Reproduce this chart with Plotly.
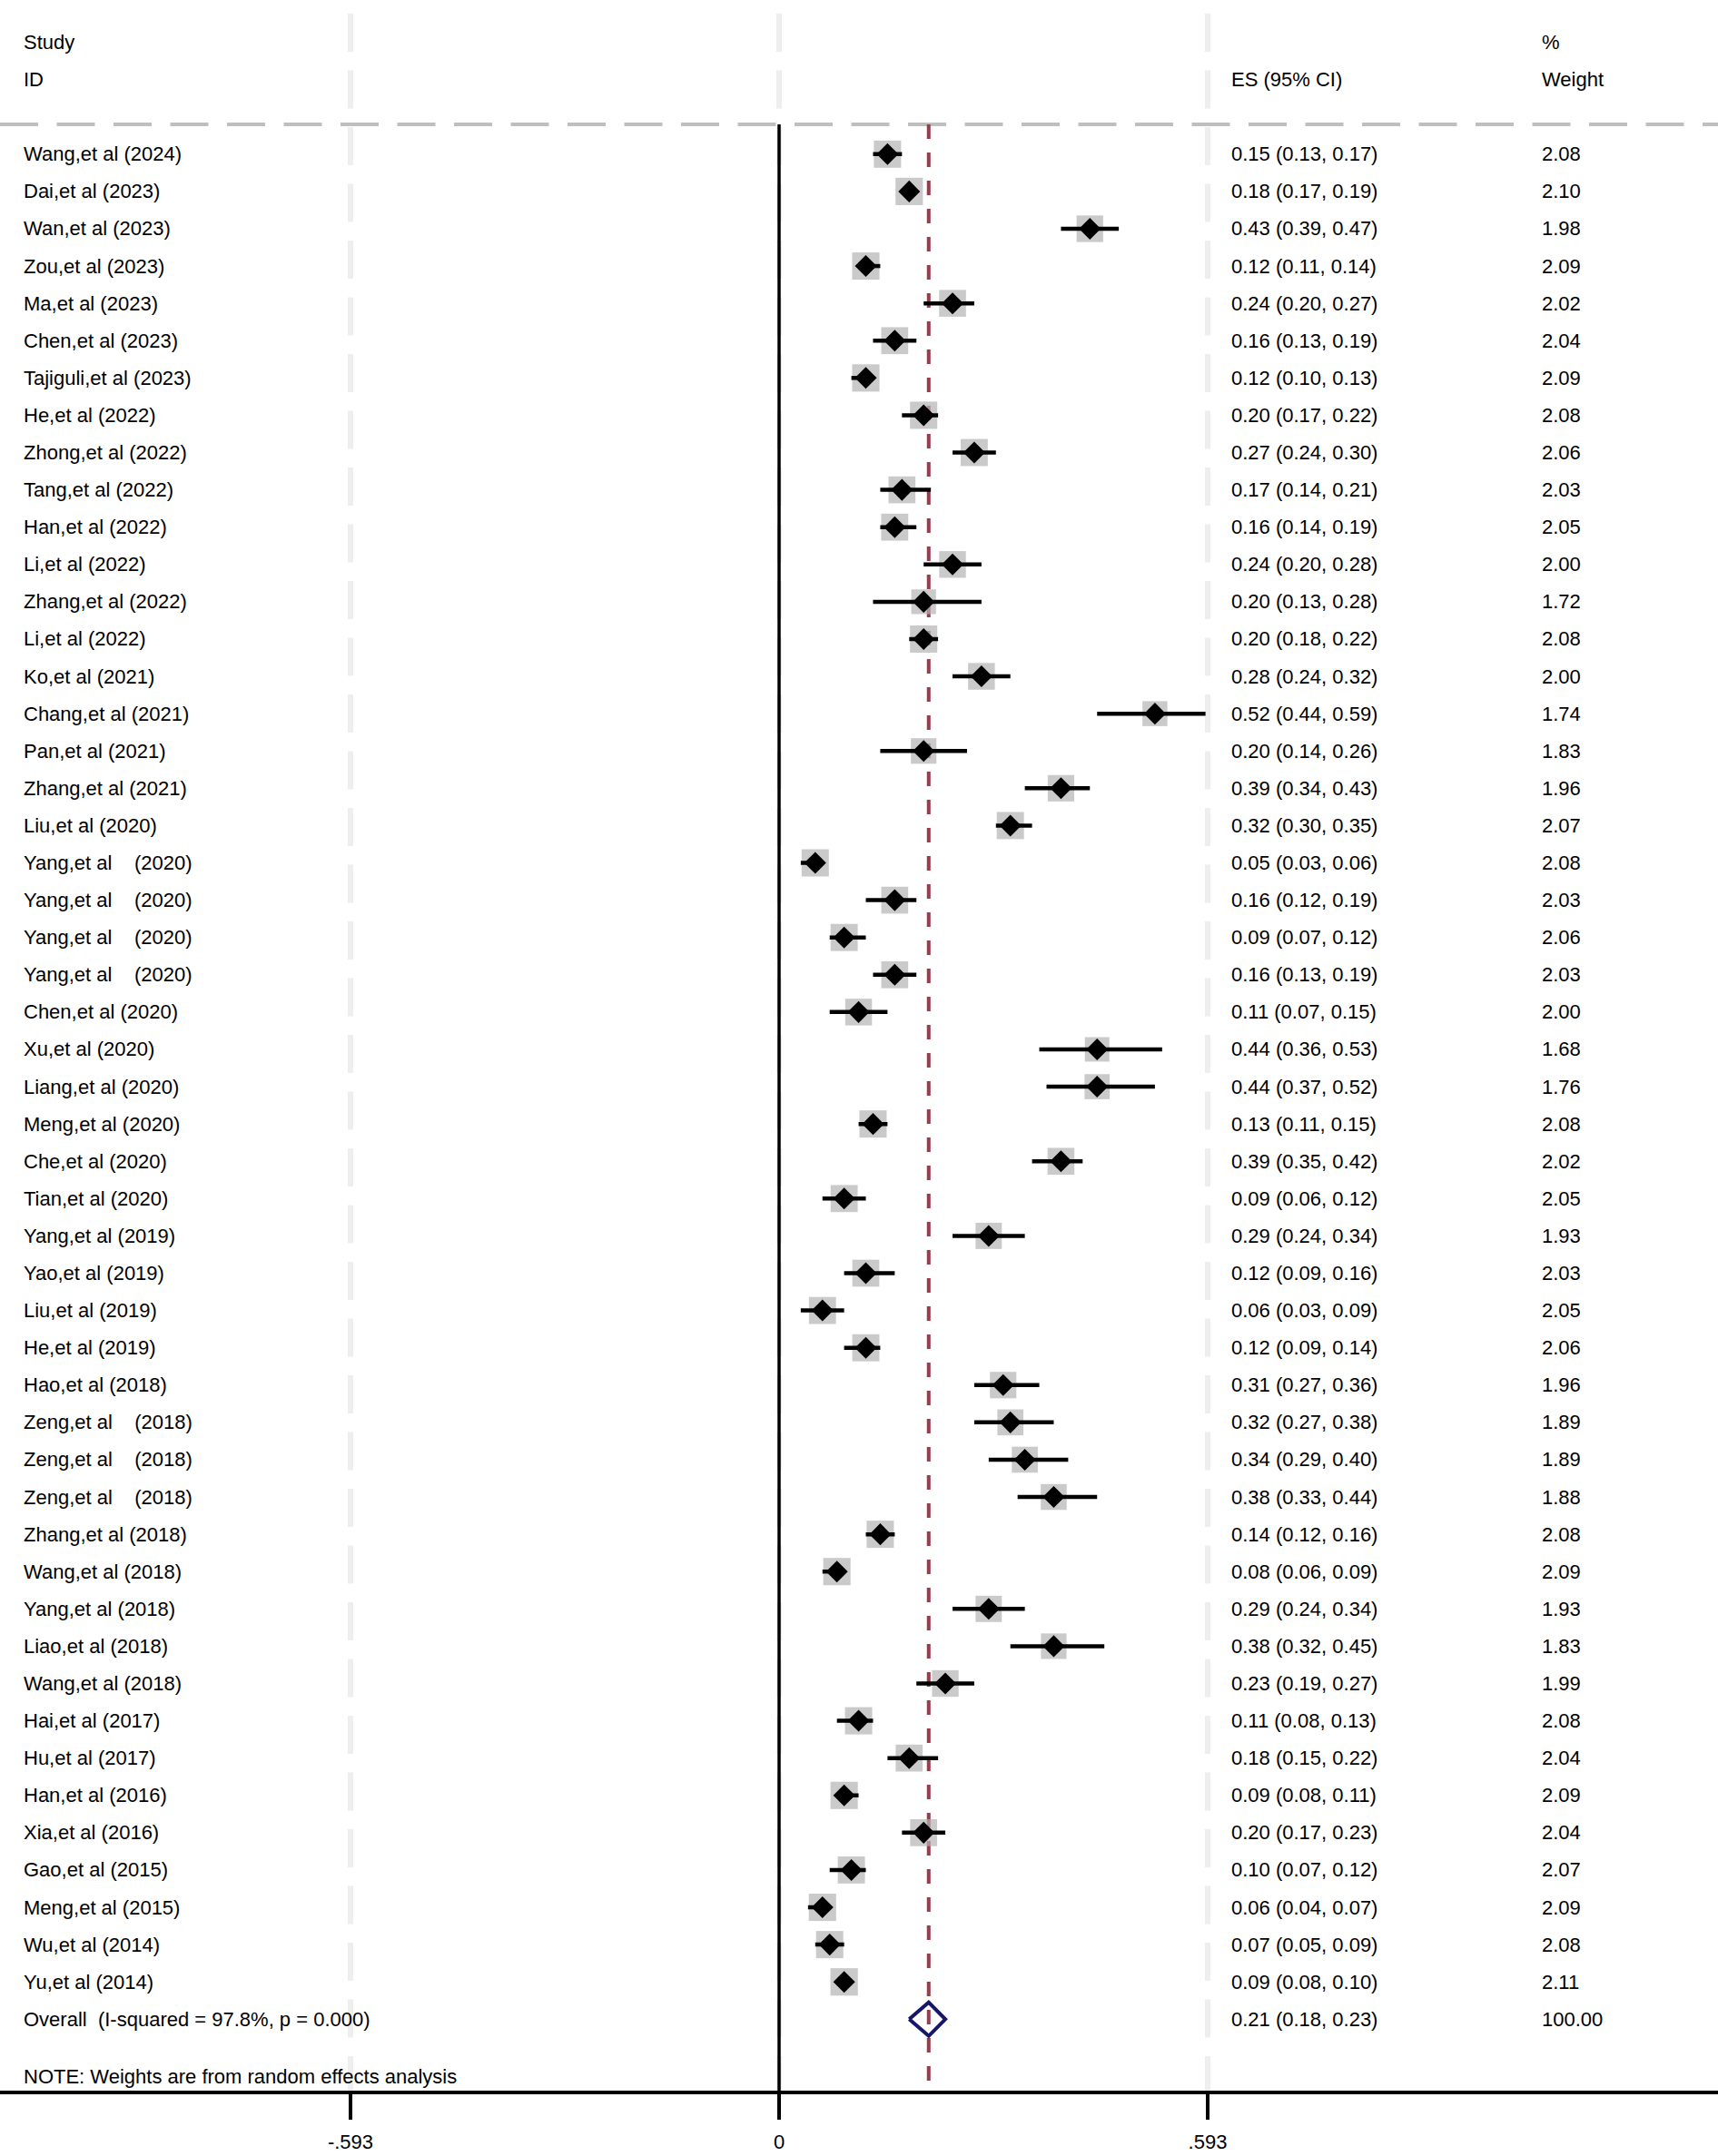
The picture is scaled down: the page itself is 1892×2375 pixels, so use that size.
import numpy as np
import plotly.graph_objects as go

SP = "\u00a0"
studies = [
    "Wang,et al (2024)", "Dai,et al (2023)", "Wan,et al (2023)", "Zou,et al (2023)",
    "Ma,et al (2023)", "Chen,et al (2023)", "Tajiguli,et al (2023)", "He,et al (2022)",
    "Zhong,et al (2022)", "Tang,et al (2022)", "Han,et al (2022)", "Li,et al (2022)",
    "Zhang,et al (2022)", "Li,et al (2022)", "Ko,et al (2021)", "Chang,et al (2021)",
    "Pan,et al (2021)", "Zhang,et al (2021)", "Liu,et al (2020)",
    "Yang,et al" + SP * 4 + "(2020)", "Yang,et al" + SP * 4 + "(2020)",
    "Yang,et al" + SP * 4 + "(2020)", "Yang,et al" + SP * 4 + "(2020)",
    "Chen,et al (2020)", "Xu,et al (2020)", "Liang,et al (2020)", "Meng,et al (2020)",
    "Che,et al (2020)", "Tian,et al (2020)", "Yang,et al (2019)", "Yao,et al (2019)",
    "Liu,et al (2019)", "He,et al (2019)", "Hao,et al (2018)",
    "Zeng,et al" + SP * 4 + "(2018)", "Zeng,et al" + SP * 4 + "(2018)",
    "Zeng,et al" + SP * 4 + "(2018)",
    "Zhang,et al (2018)", "Wang,et al (2018)", "Yang,et al (2018)", "Liao,et al (2018)",
    "Wang,et al (2018)", "Hai,et al (2017)", "Hu,et al (2017)", "Han,et al (2016)",
    "Xia,et al (2016)", "Gao,et al (2015)", "Meng,et al (2015)", "Wu,et al (2014)",
    "Yu,et al (2014)",
]
es = [0.15, 0.18, 0.43, 0.12, 0.24, 0.16, 0.12, 0.20, 0.27, 0.17, 0.16, 0.24, 0.20,
      0.20, 0.28, 0.52, 0.20, 0.39, 0.32, 0.05, 0.16, 0.09, 0.16, 0.11, 0.44, 0.44,
      0.13, 0.39, 0.09, 0.29, 0.12, 0.06, 0.12, 0.31, 0.32, 0.34, 0.38, 0.14, 0.08,
      0.29, 0.38, 0.23, 0.11, 0.18, 0.09, 0.20, 0.10, 0.06, 0.07, 0.09]
lo = [0.13, 0.17, 0.39, 0.11, 0.20, 0.13, 0.10, 0.17, 0.24, 0.14, 0.14, 0.20, 0.13,
      0.18, 0.24, 0.44, 0.14, 0.34, 0.30, 0.03, 0.12, 0.07, 0.13, 0.07, 0.36, 0.37,
      0.11, 0.35, 0.06, 0.24, 0.09, 0.03, 0.09, 0.27, 0.27, 0.29, 0.33, 0.12, 0.06,
      0.24, 0.32, 0.19, 0.08, 0.15, 0.08, 0.17, 0.07, 0.04, 0.05, 0.08]
hi = [0.17, 0.19, 0.47, 0.14, 0.27, 0.19, 0.13, 0.22, 0.30, 0.21, 0.19, 0.28, 0.28,
      0.22, 0.32, 0.59, 0.26, 0.43, 0.35, 0.06, 0.19, 0.12, 0.19, 0.15, 0.53, 0.52,
      0.15, 0.42, 0.12, 0.34, 0.16, 0.09, 0.14, 0.36, 0.38, 0.40, 0.44, 0.16, 0.09,
      0.34, 0.45, 0.27, 0.13, 0.22, 0.11, 0.23, 0.12, 0.07, 0.09, 0.10]
weights = [2.08, 2.10, 1.98, 2.09, 2.02, 2.04, 2.09, 2.08, 2.06, 2.03, 2.05, 2.00, 1.72,
           2.08, 2.00, 1.74, 1.83, 1.96, 2.07, 2.08, 2.03, 2.06, 2.03, 2.00, 1.68, 1.76,
           2.08, 2.02, 2.05, 1.93, 2.03, 2.05, 2.06, 1.96, 1.89, 1.89, 1.88, 2.08, 2.09,
           1.93, 1.83, 1.99, 2.08, 2.04, 2.09, 2.04, 2.07, 2.09, 2.08, 2.11]

overall_label = "Overall" + SP * 2 + "(I-squared = 97.8%, p = 0.000)"
overall_es, overall_lo, overall_hi = 0.207, 0.18, 0.23
overall_weight = "100.00"
note_text = "NOTE: Weights are from random effects analysis"

tick_vals = [-0.593, 0, 0.593]
tick_text = ["-.593", "0", ".593"]

# ---------------- layout helpers ----------------
W, H = 1892, 2375
PLOT_H = 2303            # bottom of plot area (pixels)
ROW0_PX, ROW_PX = 169.8, 41.09
X_PER_PX = 0.593 / 472.0
ZERO_PX = 858.0
x_range = [(0 - ZERO_PX) * X_PER_PX, (W - ZERO_PX) * X_PER_PX]
y_top = (0 - ROW0_PX) / ROW_PX
y_bot = (PLOT_H - ROW0_PX) / ROW_PX


def px2row(p):
    return (p - ROW0_PX) / ROW_PX


def px2x(p):
    return (p - ZERO_PX) * X_PER_PX


n = len(studies)
rows = np.arange(n)
es_a, lo_a, hi_a, w_a = map(np.array, (es, lo, hi, weights))

FONT = "Arial, Liberation Sans, sans-serif"
FS = 22

fig = go.Figure()

# grey weight boxes
fig.add_trace(go.Scatter(
    x=es_a, y=rows, mode="markers",
    marker=dict(symbol="square", size=20.8 * np.sqrt(w_a), color="#b3b3b3",
                line=dict(width=0)),
    hoverinfo="skip", showlegend=False))

# CI lines + point diamonds
fig.add_trace(go.Scatter(
    x=es_a, y=rows, mode="markers",
    marker=dict(symbol="diamond", size=18.5, color="black", line=dict(width=0)),
    error_x=dict(type="data", symmetric=False, array=hi_a - es_a,
                 arrayminus=es_a - lo_a, thickness=4.5, width=0, color="black"),
    hoverinfo="skip", showlegend=False))

# overall hollow diamond
dh = 0.45
fig.add_trace(go.Scatter(
    x=[overall_lo, overall_es, overall_hi, overall_es, overall_lo],
    y=[n, n - dh, n, n + dh, n],
    mode="lines", line=dict(color="#16166b", width=4),
    hoverinfo="skip", showlegend=False))

shapes = []
# faint vertical dashed grid
for tv in tick_vals:
    shapes.append(dict(type="line", xref="x", yref="y", x0=tv, x1=tv,
                       y0=px2row(15), y1=y_bot, layer="below",
                       line=dict(color="#eeeeee", width=6, dash="42px,20.5px")))
# header separator dashed line
shapes.append(dict(type="line", xref="x", yref="y", x0=x_range[0], x1=x_range[1],
                   y0=px2row(137), y1=px2row(137), layer="below",
                   line=dict(color="#bfbfbf", width=4, dash="42px,20.5px")))
# overall ES dashed red line
shapes.append(dict(type="line", xref="x", yref="y", x0=overall_es, x1=overall_es,
                   y0=px2row(137), y1=y_bot, layer="below",
                   line=dict(color="#9b3a4a", width=4, dash="16px,15px")))
# null line
shapes.append(dict(type="line", xref="x", yref="y", x0=0, x1=0,
                   y0=px2row(137), y1=y_bot, layer="below",
                   line=dict(color="black", width=3.5)))

ann = []
col_study = px2x(24)
col_es = px2x(1354)
col_w = px2x(1696)


def add_text(x, y, t):
    ann.append(dict(x=x, y=y, xref="x", yref="y", text=t, showarrow=False,
                    xanchor="left", yanchor="middle",
                    font=dict(family=FONT, size=FS, color="black")))


add_text(col_study, -3, "Study")
add_text(col_study, -2, "ID")
add_text(col_es, -2, "ES (95% CI)")
add_text(col_w, -3, "%")
add_text(col_w, -2, "Weight")

for i in range(n):
    add_text(col_study, i, studies[i])
    add_text(col_es, i, f"{es[i]:.2f} ({lo[i]:.2f}, {hi[i]:.2f})")
    add_text(col_w, i, f"{weights[i]:.2f}")

add_text(col_study, n, overall_label)
add_text(col_es, n, f"{overall_es:.2f} ({overall_lo:.2f}, {overall_hi:.2f})")
add_text(col_w, n, overall_weight)
add_text(col_study, px2row(2287), note_text)

fig.update_layout(
    width=W, height=H,
    margin=dict(l=0, r=0, t=0, b=H - PLOT_H, pad=0),
    paper_bgcolor="white", plot_bgcolor="white",
    shapes=shapes, annotations=ann, showlegend=False,
    xaxis=dict(range=x_range, showgrid=False, zeroline=False,
               showline=True, linecolor="black", linewidth=4,
               ticks="outside", ticklen=28, tickwidth=4, tickcolor="black",
               tickvals=tick_vals, ticktext=tick_text,
               tickfont=dict(family=FONT, size=FS, color="black"),
               ticklabelstandoff=6, fixedrange=True),
    yaxis=dict(range=[y_bot, y_top], showgrid=False, zeroline=False,
               showline=False, showticklabels=False, ticks="", fixedrange=True),
)

fig.write_html(
    "out.html",
    config={"displayModeBar": False},
    post_script="document.body.style.margin='0';document.body.style.overflow='hidden';",
)
